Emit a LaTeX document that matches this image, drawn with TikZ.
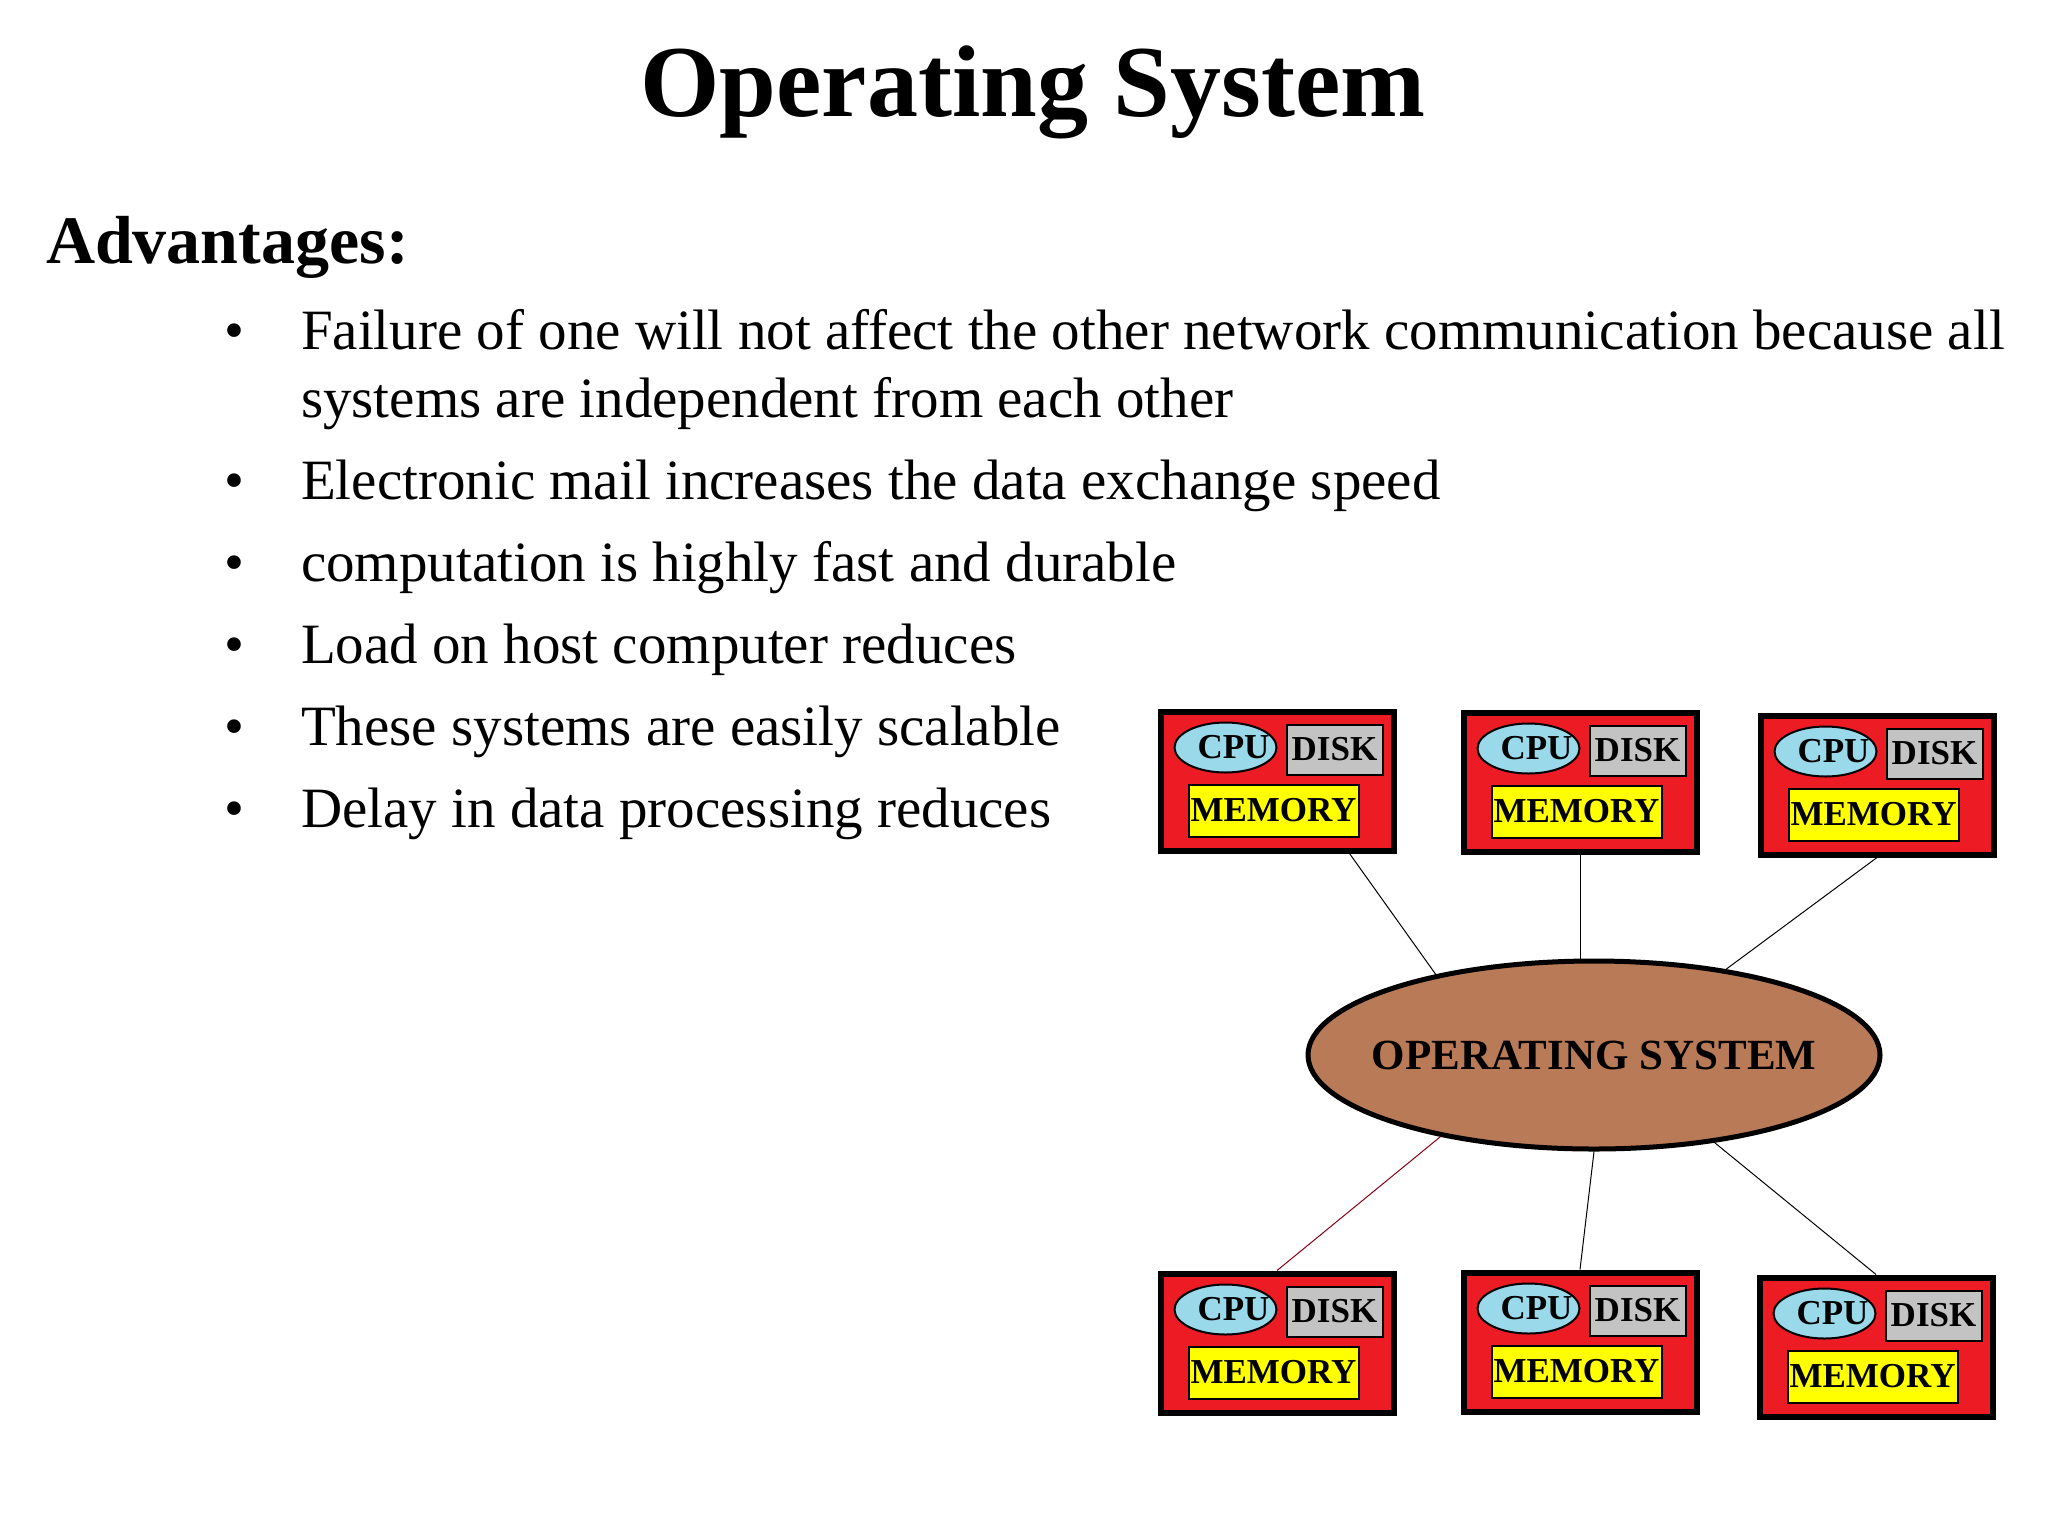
\documentclass[tikz,border=0pt]{standalone}
\usepackage{fontspec}
\setmainfont{Liberation Serif}
\usetikzlibrary{shapes.geometric}

\definecolor{boxred}{RGB}{237,28,36}
\definecolor{cpublue}{RGB}{153,217,234}
\definecolor{diskgray}{RGB}{195,195,195}
\definecolor{memyellow}{RGB}{255,255,0}
\definecolor{osbrown}{RGB}{185,122,87}
\definecolor{linkred}{RGB}{136,0,21}

\tikzset{
    comp/.style={draw, line width=3pt, fill=boxred, minimum width=116.5pt, minimum height=69.5pt, inner sep=0pt},
    part/.style={draw, line width=1pt, inner sep=0pt, font=\fontsize{17.5}{20}\selectfont\bfseries},
    cpu/.style={part, ellipse, fill=cpublue, minimum width=51pt, minimum height=25pt},
    disk/.style={part, rectangle, fill=diskgray, minimum width=48pt, minimum height=25pt},
    mem/.style={part, rectangle, fill=memyellow, minimum width=85pt, minimum height=26pt},
    os/.style={draw, line width=2.5pt, ellipse, fill=osbrown, minimum width=286pt, minimum height=94pt, inner sep=0pt},
    link/.style={draw, line width=0.5pt},
    bullet/.style={anchor=base, font=\fontsize{28.5}{32}\selectfont},
    item/.style={anchor=base west, font=\fontsize{28.5}{32}\selectfont},
}

\begin{document}
\begin{tikzpicture}[x=0.5pt, y=-0.5pt]
    \useasboundingbox (0,0) rectangle (2048,1536);

    % heading
    \node[anchor=base, font=\fontsize{51}{60}\selectfont\bfseries] (title) at (1033,117) {Operating System};
    \node[anchor=base west, font=\fontsize{34}{40}\selectfont\bfseries] (adv) at (39,263) {Advantages:};

    % bullet list
    \node[bullet] (d1) at (234,349) {•};
    \node[bullet] (d2) at (234,499) {•};
    \node[bullet] (d3) at (234,581) {•};
    \node[bullet] (d4) at (234,663) {•};
    \node[bullet] (d5) at (234,745) {•};
    \node[bullet] (d6) at (234,827) {•};
    \node[item] (t1a) at (294,349) {Failure of one will not affect the other network communication because all};
    \node[item] (t1b) at (294,417) {systems are independent from each other};
    \node[item] (t2)  at (294,499) {Electronic mail increases the data exchange speed};
    \node[item] (t3)  at (294,581) {computation is highly fast and durable};
    \node[item] (t4)  at (294,663) {Load on host computer reduces};
    \node[item] (t5)  at (294,745) {These systems are easily scalable};
    \node[item] (t6)  at (294,827) {Delay in data processing reduces};

    % computers
    \node[comp] (b1) at (1277,781)  {};
    \node[comp] (b2) at (1580,782)  {};
    \node[comp] (b3) at (1877,785)  {};
    \node[comp] (b4) at (1277,1343) {};
    \node[comp] (b5) at (1580,1342) {};
    \node[comp] (b6) at (1876,1347) {};
    \foreach \n in {b1,b2,b3,b4,b5,b6} {
        \node[cpu]  (\n-cpu)  at ([shift={(-51.5,-33.5)}]\n.center) {\kern4pt CPU\kern-4pt};
        \node[disk] (\n-disk) at ([shift={(57.5,-31.5)}]\n.center)  {DISK};
        \node[mem]  (\n-mem)  at ([shift={(-3.5,29.5)}]\n.center)   {MEMORY};
    }

    % operating system
    \node[os] (os) at (1594,1055) {};
    \node[font=\fontsize{21.5}{24}\selectfont\bfseries] (osname) at (os.center) {OPERATING SYSTEM};

    \draw[link] (b1.-45)   -- (os.153);
    \draw[link] (b2.south) -- (b2.south |- os.north);
    \draw[link] (b3.south) -- (os.33);
    \draw[link, linkred] (os.-152) -- (b4.north);
    \draw[link] (os.south) -- (b5.north);
    \draw[link] (os.-36)   -- (b6.north);
\end{tikzpicture}
\end{document}
